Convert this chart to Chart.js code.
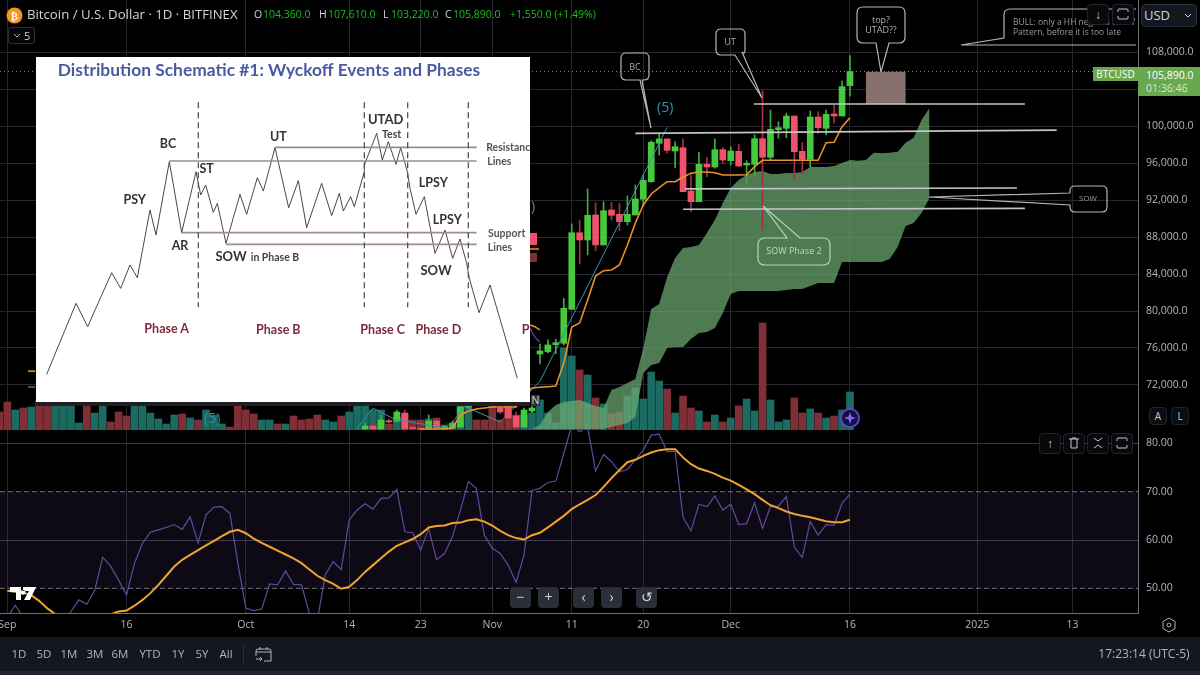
<!DOCTYPE html>
<html>
<head>
<meta charset="utf-8">
<title>BTCUSD</title>
<script src="https://cdn.jsdelivr.net/npm/chart.js@4"></script>
<style>
  html, body { margin: 0; padding: 0; background: #000; }
  body { width: 1200px; height: 675px; position: relative; overflow: hidden; font-family: "Open Sans", sans-serif; color: #d1d4dc; }
  canvas { position: absolute; display: block; }
  #mainChart { left: 0; top: 0; }
  #rsiChart { left: 0; top: 430px; }
  #notes { position: absolute; left: 0; top: 0; }
  .t { position: absolute; white-space: nowrap; line-height: 1; }
  .g { color: #1fc01f; }
  .btn { position: absolute; box-sizing: border-box; width: 22px; height: 21px; border: 1px solid #22252e; border-radius: 4px; background: #08090c; color: #c8cad0; font-size: 12px; text-align: center; line-height: 19px; }
  .nav { position: absolute; top: 587px; width: 21px; height: 21px; border-radius: 4px; background: #2a2e39; color: #d1d4dc; text-align: center; font-size: 14px; line-height: 20px; }
  #panel { position: absolute; left: 36px; top: 57px; width: 494px; height: 345px; background: #fff; overflow: hidden; box-shadow: 0 4px 0 #202024; }
  #panel canvas { left: 0; top: 0; }
  #panel span { position: absolute; white-space: nowrap; line-height: 1; transform: translate(-50%, -50%); font-family: Lato, sans-serif; font-weight: 700; }
  #bottom { position: absolute; left: 0; top: 637px; width: 1200px; height: 34px; background: #131722; }
  #foot { position: absolute; left: 0; top: 671px; width: 1200px; height: 4px; background: #20242e; }
  #bottom .t { top: 11px; font-size: 11.5px; color: #b2b5be; transform: translateX(-50%); }
  #lastTag { position: absolute; left: 1138px; top: 67px; width: 62px; height: 29px; background: #6aa84f; color: #fff; }
  #nameTag { position: absolute; left: 1093px; top: 67px; width: 45px; height: 14px; background: #6aa84f; color: #fff; font-size: 10px; text-align: center; line-height: 14px; }
</style>
</head>
<body>
<canvas id="mainChart" width="1200" height="430"></canvas>
<canvas id="rsiChart" width="1200" height="207"></canvas>

<svg id="notes" width="1200" height="430" fill="none" stroke="#b5b5b5" stroke-width="1.2">
  <!-- callouts -->
  <path d="M626 53H644Q649 53 649 58V75Q649 80 644 80H642L651 128L640 80H626Q621 80 621 75V58Q621 53 626 53Z"/>
  <path d="M721 29H740Q745 29 745 34V50Q745 55 742 52L762 98L735 55H721Q716 55 716 50V34Q716 29 721 29Z"/>
  <path d="M863 7H899Q905 7 905 13V37Q905 43 899 43H889L881 72L876 43H863Q857 43 857 37V13Q857 7 863 7Z"/>
  <path d="M1136 9H1010Q1004 9 1004 15V38L961 45H1136"/>
  <path d="M1075 186H1102Q1107 186 1107 191V207Q1107 212 1102 212H1075Q1070 212 1070 207V205L929 197L1070 193V191Q1070 186 1075 186Z"/>
  <path stroke="#bcd0bc" d="M765 238H787L763 206L800 238H823Q830 238 830 245V258Q830 265 823 265H765Q758 265 758 258V245Q758 238 765 238Z"/>
  <!-- bits of the other drawing peeking out around the pasted panel -->
  <rect x="530" y="233" width="7" height="12" fill="#f0526a" stroke="none"/>
  <rect x="530" y="253" width="7" height="9" fill="#7f2f35" stroke="none"/>
  <path d="M530 249H539M530 325Q535 326 540 330" stroke="#e8912c" stroke-width="1.5"/>
  <path d="M530 328Q534 338 540 342" stroke="#5e4a9a"/>
  <path d="M28 387H35" stroke="#8a80b8"/>
  <!-- replay marker -->
  <circle cx="850" cy="418" r="9" stroke="#5a45d0" stroke-width="2" fill="#14123a"/>
  <path d="M850 412L851.5 416.5L856 418L851.5 419.5L850 424L848.5 419.5L844 418L848.5 416.5Z" fill="#7a66ff" stroke="none"/>
</svg>

<div class="t" style="left:657px;top:100px;font-size:14px;color:#3f8fb0">(5)</div>
<div class="t" style="left:204px;top:411px;font-size:14px;color:#3488a4">(5)</div>
<div class="t" style="left:531px;top:199px;font-size:14px;color:#3f8fb0">)</div>
<div class="t" style="left:531px;top:395px;width:9px;height:11px;background:#33343a;font-size:10.5px;line-height:11px;text-align:center;color:#d8d8d8">N</div>

<div class="t" style="left:635px;top:62px;font-size:9px;color:#a8a8a8;transform:translateX(-50%)">BC</div>
<div class="t" style="left:730px;top:37px;font-size:9px;color:#a8a8a8;transform:translateX(-50%)">UT</div>
<div class="t" style="left:881px;top:15px;font-size:9px;color:#b0b0b0;transform:translateX(-50%)">top?</div>
<div class="t" style="left:881px;top:25px;font-size:9px;color:#b0b0b0;transform:translateX(-50%)">UTAD??</div>
<div class="t" style="left:1013px;top:18px;font-size:8.5px;color:#9a9a9a">BULL: only a HH negates the W</div>
<div class="t" style="left:1013px;top:28px;font-size:8.5px;color:#9a9a9a">Pattern, before it is too late</div>
<div class="t" style="left:1088px;top:194px;font-size:8px;color:#9a9a9a;transform:translateX(-50%)">SOW</div>
<div class="t" style="left:794px;top:246px;font-size:9px;color:#c9d6c9;transform:translateX(-50%)">SOW Phase 2</div>

<!-- header -->
<svg style="position:absolute;left:6px;top:7px" width="17" height="17"><circle cx="8.5" cy="8.5" r="8" fill="#f7931a"/><text x="8.5" y="12.5" font-size="11" font-family="DejaVu Sans" font-weight="700" fill="#fff" text-anchor="middle">₿</text></svg>
<div class="t" style="left:27px;top:8px;font-size:13.2px">Bitcoin / U.S. Dollar · 1D · BITFINEX</div>
<div class="t" style="left:254px;top:9px;font-size:10.5px">O</div><div class="t g" style="left:263px;top:9px;font-size:10.5px">104,360.0</div>
<div class="t" style="left:319px;top:9px;font-size:10.5px">H</div><div class="t g" style="left:328px;top:9px;font-size:10.5px">107,610.0</div>
<div class="t" style="left:383px;top:9px;font-size:10.5px">L</div><div class="t g" style="left:391px;top:9px;font-size:10.5px">103,220.0</div>
<div class="t" style="left:445px;top:9px;font-size:10.5px">C</div><div class="t g" style="left:453px;top:9px;font-size:10.5px">105,890.0</div>
<div class="t g" style="left:510px;top:9px;font-size:10.5px">+1,550.0 (+1.49%)</div>
<div style="position:absolute;left:8px;top:27px;width:27px;height:17px;box-sizing:border-box;border:1px solid #2a2e39;border-radius:3px;background:#050608"></div>
<svg style="position:absolute;left:13px;top:33px" width="8" height="6" fill="none" stroke="#b2b5be"><path d="M1 1L4 4L7 1"/></svg>
<div class="t" style="left:24px;top:30px;font-size:11px">5</div>

<!-- top right controls -->
<div class="btn" style="left:1087px;top:4px">↓</div>
<div class="btn" style="left:1112px;top:4px"><svg width="12" height="12" style="margin-top:3px" fill="none" stroke="#c8cad0"><path d="M1 4V2Q1 1 2 1H10Q11 1 11 2V4M1 8V10Q1 11 2 11H10Q11 11 11 10V8"/></svg></div>
<div style="position:absolute;left:1141px;top:4px;width:56px;height:23px;box-sizing:border-box;border:1px solid #2a2e39;border-radius:4px;background:#131722"></div>
<div class="t" style="left:1144px;top:9px;font-size:13px">USD</div>
<svg style="position:absolute;left:1184px;top:13px" width="8" height="6" fill="none" stroke="#d1d4dc"><path d="M1 1L4 4L7 1"/></svg>
<div id="nameTag">BTCUSD</div>
<div id="lastTag">
  <div class="t" style="left:8px;top:3px;font-size:10.5px">105,890.0</div>
  <div class="t" style="left:8px;top:16px;font-size:10.5px;color:#d6e8cc">01:36:46</div>
</div>
<div class="btn" style="left:1149px;top:407px;width:18px;height:18px;line-height:16px;font-size:10px;background:#0c0d10">A</div>
<div class="btn" style="left:1171px;top:407px;width:18px;height:18px;line-height:16px;font-size:10px;background:#0c0d10">L</div>

<!-- RSI pane controls -->
<div class="btn" style="left:1039px;top:433px">↑</div>
<div class="btn" style="left:1063px;top:433px"><svg width="10" height="12" style="margin-top:3px" fill="none" stroke="#c8cad0"><path d="M0 2H10M3 2V1H7V2M2 2V11H8V2"/></svg></div>
<div class="btn" style="left:1087px;top:433px"><svg width="10" height="12" style="margin-top:3px" fill="none" stroke="#c8cad0"><path d="M1 1L5 4L9 1M1 11L5 8L9 11"/></svg></div>
<div class="btn" style="left:1111px;top:433px"><svg width="12" height="12" style="margin-top:3px" fill="none" stroke="#c8cad0"><path d="M1 4V2Q1 1 2 1H10Q11 1 11 2V4M1 8V10Q1 11 2 11H10Q11 11 11 10V8"/></svg></div>

<!-- chart navigation -->
<div class="nav" style="left:510px">−</div>
<div class="nav" style="left:538px">+</div>
<div class="nav" style="left:573px">‹</div>
<div class="nav" style="left:601px">›</div>
<div class="nav" style="left:636px">↺</div>

<svg style="position:absolute;left:10px;top:587px" width="27" height="14" fill="#fff"><path d="M0 0H11V13H6V5H0ZM13 0H26L20 13H14L19 4H13ZM13 3a2.4 2.4 0 1 0 0.1 0Z"/></svg>
<svg style="position:absolute;left:1160px;top:616px" width="18" height="18" fill="none" stroke="#b2b5be"><path d="M9 2L15 5.5V12.5L9 16L3 12.5V5.5Z"/><circle cx="9" cy="9" r="2"/></svg>

<!-- pasted schematic -->
<div id="panel"><canvas id="schemeChart" width="494" height="345"></canvas></div>

<!-- bottom bar -->
<div id="bottom">
  <div class="t" style="left:19px">1D</div>
  <div class="t" style="left:44px">5D</div>
  <div class="t" style="left:69px">1M</div>
  <div class="t" style="left:95px">3M</div>
  <div class="t" style="left:120px">6M</div>
  <div class="t" style="left:150px">YTD</div>
  <div class="t" style="left:178px">1Y</div>
  <div class="t" style="left:202px">5Y</div>
  <div class="t" style="left:226px">All</div>
  <div style="position:absolute;left:243px;top:7px;width:1px;height:20px;background:#2a2e39"></div>
  <svg style="position:absolute;left:255px;top:9px" width="17" height="17" fill="none" stroke="#b2b5be"><path d="M3 3H14Q16 3 16 5V15H9M1 10V5Q1 3 3 3M1 6H16M5 1V4M12 1V4M1 13H7M5 11L7 13L5 15"/></svg>
  <div class="t" style="left:1144px;font-size:12px">17:23:14 (UTC-5)</div>
</div>
<div id="foot"></div>

<script>
// Days are counted from Sep 1 2024 = 0
const tickDays = [0, 15, 30, 43, 52, 61, 71, 80, 91, 106, 122, 134];
const tickLabels = ['Sep', '16', 'Oct', '14', '23', 'Nov', '11', '20', 'Dec', '16', '2025', '13'];
const priceTicks = [72000, 76000, 80000, 84000, 88000, 92000, 96000, 100000, 104000, 108000];
const rsiTicks = [50, 60, 70, 80];

// Candles, first one is day 45
const candleStart = 45;
const opens = [67245, 67567, 67245, 68140, 68100, 68970, 67400, 67300, 67350, 68100, 67300, 67350, 67460, 69622, 71000, 72400, 72500, 69515, 69515, 68650, 67460, 69190,
  75350, 75600, 76360, 76510, 80180, 88460, 87680, 90380, 87140, 90920, 90450, 89660, 90380, 92080, 93980, 98130, 98600, 97300, 97650, 92970,
  91820, 95860, 95570, 97440, 96250, 97265, 95785, 95860, 98630, 96620, 99600, 99750, 101080, 97265, 96400, 100975, 99750, 101300, 101080, 104360];
const highs = [67900, 68000, 68757, 68350, 69300, 69300, 67500, 67400, 68757, 68300, 67600, 68100, 69800, 71200, 72600, 73000, 72900, 69900, 69622, 69080, 69500, 69700,
  76430, 76870, 76950, 81370, 89410, 89840, 93190, 91710, 91820, 91750, 91650, 92430, 93620, 94700, 98400, 99210, 98600, 98300, 98600, 94700,
  97160, 96620, 98600, 97650, 97760, 98050, 96250, 99030, 103815, 101730, 100465, 101375, 101080, 98200, 101620, 101550, 101730, 102270, 104865, 107610];
const lows = [67200, 67245, 67245, 67900, 68000, 67245, 67250, 67150, 67300, 67300, 67250, 67300, 67400, 69500, 70800, 72000, 69900, 68900, 67460, 67400, 67400, 69000,
  74270, 75470, 75400, 76330, 80180, 85080, 86060, 86510, 87140, 89840, 88680, 89300, 90380, 91350, 93900, 96860, 97050, 95490, 92900, 90730,
  91820, 94520, 95430, 96000, 95785, 95600, 93730, 94700, 88760, 96320, 98670, 98735, 94240, 94890, 95600, 99210, 99030, 100325, 101080, 103220];
const closes = [67567, 67245, 68215, 68000, 69080, 67245, 67300, 67200, 68100, 67350, 67500, 67890, 69622, 71000, 72400, 72500, 70200, 69080, 68430, 67460, 69300, 69515,
  75680, 76330, 76570, 80300, 88460, 87680, 90350, 87140, 90840, 90350, 89660, 90450, 92110, 94130, 98240, 98600, 97370, 97760, 92900, 91820,
  95860, 95570, 97440, 96320, 97300, 95680, 95970, 98630, 96620, 99640, 99820, 101080, 97220, 96400, 100975, 99820, 101265, 101080, 104250, 105890];

// Volume, first one is day -1
const volumeStart = -1;
const volumes = [1800, 2800, 2000, 2200, 2300, 3000, 3000, 3000, 3000, 3000, 700, 3000, 1700, 3000, 800, 1800, 1400, 3000, 3000, 1700, 1100, 600, 1500, 1600, 1200, 1000, 2000,
  1500, 600, 300, 3000, 2000, 1600, 1000, 1000, 600, 600, 1400, 1000, 1100, 1500, 1000, 800, 1400, 1800, 3000, 3000, 2000, 2000, 600, 1300, 1600, 1000, 1000,
  1100, 1200, 500, 600, 3000, 3000, 1000, 1000, 3000, 1000, 3000, 1500, 1500, 1700, 3000, 1700, 700, 8200, 7400, 6000, 5500, 3200, 2600, 1600, 1800, 3400, 4200,
  3100, 5800, 4900, 4100, 1700, 3400, 2200, 1900, 800, 1500, 800, 1200, 2400, 3100, 1900, 10700, 3000, 800, 1000, 3200, 1700, 2100, 1700, 1200, 1400, 2000, 3800];
const volumeRising = [0, 0, 1, 0, 1, 0, 0, 1, 1, 1, 1, 0, 1, 1, 0, 0, 0, 1, 1, 1, 1, 1, 1, 0, 1, 0, 1,
  1, 1, 0, 0, 0, 0, 1, 1, 0, 1, 0, 0, 0, 0, 1, 1, 0, 1, 1, 1, 1, 1, 0, 1, 0, 0, 0,
  1, 0, 1, 1, 1, 1, 0, 0, 0, 0, 0, 0, 1, 1, 1, 1, 1, 1, 1, 0, 1, 0, 1, 0, 0, 1, 1,
  1, 1, 1, 0, 1, 0, 0, 1, 0, 1, 0, 1, 0, 1, 1, 0, 1, 1, 1, 0, 0, 1, 0, 1, 0, 1, 1];

// Ichimoku style cloud, first one is day 66
const cloudStart = 66;
const cloudUpper = [67245, 67677, 69080, 69840, 70160, 70270, 70380, 70055, 69730, 69515, 71460, 71785, 72215, 72650, 76000, 80215, 80760, 83675, 85730, 86810, 86920, 87135, 88435,
  89840, 91675, 93300, 94160, 94700, 95030, 95135, 94810, 94810, 94920, 94920, 95030, 95570, 95570, 95570, 95675, 96000, 96325, 96250, 96325, 97115, 97050, 97115, 97220, 98195, 98735, 100650, 101945];
const cloudLower = [67245, 67245, 67245, 67245, 67245, 67245, 67245, 67245, 67245, 67245, 67460, 67677, 67890, 68540, 73300, 74165, 74380, 76000, 76110, 76110, 76975, 77620, 77730,
  78160, 79785, 81840, 82160, 82160, 82160, 82160, 82160, 82160, 82270, 82380, 82380, 82700, 83025, 83025, 83025, 85300, 85300, 85300, 85300, 85300, 85300, 85620, 86920, 89190, 89515, 90595, 92215];

// Orange base line, first one is day 52
const baseStart = 52;
const baseLine = [67245, 67245, 67245, 67245, 67350, 68757, 69190, 69405, 69515, 69622, 69622, 69622, 69622, 70920, 71675, 71752, 71817, 71893, 74380, 78270, 78700, 81190, 83785, 84357, 84430, 84975,
  87135, 89515, 91460, 92650, 93330, 93980, 93980, 94487, 94887, 95027, 95027, 94950, 94703, 94703, 94703, 94735, 95600, 96290, 96290, 96290, 96290, 96290, 96290, 96290, 96290, 98195, 98238, 99925, 100900];
const baseLeftDays = [2.6, 3.5];
const baseLeft = [73500, 73500];

// Elliott wave leg
const waveDays = [44, 46, 48.7, 55.5, 57.5, 62, 67, 83];
const wavePrices = [67300, 69500, 68300, 67300, 69700, 68000, 72400, 99850];

// Drawn levels: start day, end day, start price, end price
const levelFrom = [93.9, 79, 85.25, 85];
const levelTo = [128, 132, 127, 128];
const levelStartPrice = [102380, 99200, 93200, 91000];
const levelEndPrice = [102380, 99550, 93300, 91100];
const lastPrice = 105890;
const boxDay = 110.5;
const boxPrices = [102380, 105840];

// RSI, first one is day 0
const rsiStart = 0;
const rsiValues = [44, 46.5, 44, 43, 42, 40, 41, 42, 45.2, 47.6, 46.7, 49.6, 56.4, 54.6, 51.7, 48.6, 55.2, 59.3, 61.6, 62.1, 62.6, 63.2, 62.2, 64.8, 59.4, 65.2, 66.8, 66.9, 65.5, 55.2,
  45.9, 45.4, 45.7, 50.9, 50.7, 53.6, 50.8, 50.7, 44.8, 43.4, 52.8, 55.5, 53.9, 64.1, 66.2, 67.5, 66.4, 68.6, 68.7, 70.5, 61.7, 61.5, 57.9, 62.4, 55.9, 57.2, 60.7, 66.2, 72.1, 70.7,
  61, 58.3, 57.2, 54.8, 51.2, 56.9, 70.2, 70.7, 71.9, 72.2, 77.9, 83.8, 82.4, 83.4, 74.3, 77.7, 76.2, 74.1, 74.6, 76.6, 78.6, 81.7, 81.9, 78.3, 78.4, 64.7, 61.9, 67.4, 66.9, 69.1,
  66.2, 67.4, 63.2, 63.4, 67.7, 62.4, 66.9, 67, 69, 58.5, 56.4, 63.8, 61, 63.2, 63.1, 67.6, 69.5];
const rsiAverage = [49.5, 49.3, 49.1, 48.6, 47.4, 45.9, 44.7, 44.1, 43.8, 43.5, 43.5, 43.7, 44.2, 44.6, 45.2, 45.4, 46.4, 47.6, 49, 50.7, 52.6, 54.5, 55.9, 56.9, 57.9, 58.9, 59.8, 60.8, 61.7, 62.1,
  61.4, 60.3, 59.4, 58.6, 57.8, 57, 56.2, 55.2, 53.9, 52.6, 51.7, 50.9, 49.9, 50.3, 51.7, 53.4, 54.8, 56.2, 57.6, 58.8, 59.5, 60.2, 61.2, 62.6, 62.9, 63, 63.5, 63.6, 64.1, 64.3,
  63.8, 63, 61.9, 61, 60.4, 60.1, 61, 61.5, 62.6, 63.8, 65, 66.4, 67.4, 68.3, 69.3, 71, 72.8, 74.5, 76.1, 76.6, 77.4, 78.1, 78.6, 78.8, 78.8, 77.1, 75.7, 74.8, 74.3, 73.7,
  72.9, 72.3, 71.4, 70.5, 69.5, 68.3, 67.2, 66.6, 65.9, 65.4, 65, 64.7, 64.3, 63.9, 63.7, 63.7, 64.2];

// Wyckoff schematic path, in the schematic's own units
const schemeX = [50, 138, 173, 245, 272, 300, 322, 360, 378, 418, 455, 498, 512, 527, 550, 562, 588, 630, 650, 682, 700, 735, 776, 805, 830, 875, 905, 928, 940, 962, 973, 1003, 1003, 1040, 1057, 1075, 1098, 1112, 1132, 1140, 1158, 1183, 1215, 1245, 1268, 1290, 1310, 1318, 1347, 1380, 1462];
const schemeY = [973, 760, 830, 668, 715, 645, 683, 480, 555, 335, 548, 365, 435, 405, 487, 460, 580, 433, 493, 383, 423, 293, 473, 392, 533, 400, 497, 430, 483, 440, 470, 365, 345, 250, 330, 275, 343, 293, 365, 415, 493, 440, 610, 540, 625, 567, 640, 685, 788, 705, 985];
const schemePhaseX = [505, 1003, 1133, 1315];
const schemeRangeFrom = [735, 418, 455, 588];
const schemeRangeY = [292, 333, 548, 583];
const schemeRangeEnd = 1340;
const schemeLabels = [
  ['Distribution Schematic #1: Wyckoff Events and Phases', 717, 60, 17.4, '#4a5aa0'],
  ['BC', 414, 283, 12.5, '#333'], ['PSY', 314, 450, 12.5, '#333'], ['ST', 530, 358, 12.5, '#333'], ['AR', 450, 588, 12.5, '#333'],
  ['UT', 745, 262, 12.5, '#333'], ['SOW', 603, 618, 13, '#333'], ['in Phase B', 735, 620, 10.5, '#444'],
  ['UTAD', 1067, 208, 13, '#333'], ['Test', 1085, 252, 10.5, '#444'], ['Resistance', 1443, 290, 10.5, '#555'], ['Lines', 1408, 332, 10.5, '#555'],
  ['LPSY', 1210, 400, 12.5, '#333'], ['LPSY', 1252, 510, 12.5, '#333'], ['SOW', 1218, 660, 13, '#333'],
  ['Support', 1430, 548, 10.5, '#555'], ['Lines', 1410, 590, 10.5, '#555'],
  ['Phase A', 410, 836, 12.5, '#7d2a3c'], ['Phase B', 745, 840, 12.5, '#7d2a3c'], ['Phase C', 1058, 840, 12.5, '#7d2a3c'], ['Phase D', 1225, 840, 12.5, '#7d2a3c'], ['P', 1487, 840, 12.5, '#7d2a3c']
];

const GRID = '#26262e';
const AXIS = '#6c6f78';
const UP = '#46c93c';
const DOWN = '#f0526a';
const UP_WICK = '#3fae3f';
const DOWN_WICK = '#a8303f';
const DAY_MIN = -0.92;
const DAY_MAX = 142.23;
const FONT = '"Open Sans", sans-serif';

/**
 * Pair a list of values with consecutive days
 */
function byDay(values, start) {
  return values.map((y, i) => ({ x: start + i, y }));
}

/**
 * Thin line dataset with no points
 */
function lineSet(data, color, width, extra) {
  return Object.assign({ type: 'line', data, borderColor: color, borderWidth: width, pointRadius: 0, tension: 0, yAxisID: 'y' }, extra);
}

/**
 * Stop the layout from reserving room for tick label overhang
 */
function noOverhang(scale) {
  scale.paddingLeft = 0;
  scale.paddingRight = 0;
  scale.paddingTop = 0;
  scale.paddingBottom = 0;
}

/**
 * Shared x axis: fixed day range with the chart's own date ticks
 */
function dayAxis(showLabels, height) {
  return {
    type: 'linear',
    offset: false,
    min: DAY_MIN,
    max: DAY_MAX,
    afterBuildTicks: scale => { scale.ticks = tickDays.map(value => ({ value })); },
    afterFit: scale => { scale.height = height; noOverhang(scale); },
    grid: { color: GRID, drawTicks: false, offset: false },
    border: { color: AXIS },
    ticks: {
      display: showLabels,
      autoSkip: false,
      maxRotation: 0,
      padding: 6,
      color: '#b2b5be',
      font: { family: FONT, size: 10.5 },
      callback: value => tickLabels[tickDays.indexOf(value)]
    }
  };
}

/**
 * Price pane: candles, volume, cloud, base line and drawn levels
 */
function createMainChart() {
  const rising = opens.map((o, i) => closes[i] >= o);
  const datasets = [];

  datasets.push({
    type: 'bar', yAxisID: 'vol', grouped: false, order: 10, barThickness: 7,
    data: byDay(volumes, volumeStart),
    backgroundColor: volumeRising.map(r => (r ? '#1c6b62' : '#7f2f35'))
  });
  datasets.push(lineSet(byDay(cloudUpper, cloudStart), 'transparent', 0, {
    order: 6, fill: '+1', backgroundColor: 'rgba(110,170,115,0.72)'
  }));
  datasets.push(lineSet(byDay(cloudLower, cloudStart), 'transparent', 0, { order: 7 }));
  datasets.push({
    type: 'bar', yAxisID: 'y', grouped: false, order: 5, barThickness: 1,
    data: highs.map((h, i) => ({ x: candleStart + i, y: [lows[i], h] })),
    backgroundColor: rising.map(r => (r ? UP_WICK : DOWN_WICK))
  });
  datasets.push({
    type: 'bar', yAxisID: 'y', grouped: false, order: 4, barThickness: 6,
    data: opens.map((o, i) => ({ x: candleStart + i, y: [o, closes[i]] })),
    backgroundColor: rising.map(r => (r ? UP : DOWN))
  });
  datasets.push({
    type: 'bar', yAxisID: 'y', grouped: false, order: 4, barThickness: 39,
    data: [{ x: boxDay, y: boxPrices }],
    backgroundColor: '#86706e'
  });
  datasets.push(lineSet(byDay(baseLine, baseStart), '#e8912c', 1.6, { order: 3 }));
  datasets.push(lineSet(baseLeftDays.map((x, i) => ({ x, y: baseLeft[i] })), '#e8912c', 1.6, { order: 3 }));
  datasets.push(lineSet(waveDays.map((x, i) => ({ x, y: wavePrices[i] })), '#3c8fae', 1, { order: 3 }));
  datasets.push(lineSet([{ x: DAY_MIN, y: lastPrice }, { x: DAY_MAX, y: lastPrice }], '#6aa84f', 1, { order: 3, borderDash: [1, 3] }));
  levelFrom.forEach((from, i) => {
    datasets.push(lineSet([{ x: from, y: levelStartPrice[i] }, { x: levelTo[i], y: levelEndPrice[i] }], '#c4c4c4', 1.6, { order: 2 }));
  });

  return new Chart(document.getElementById('mainChart'), {
    type: 'bar',
    data: { datasets },
    options: {
      responsive: false,
      animation: false,
      layout: { padding: 0 },
      plugins: { legend: { display: false }, tooltip: { enabled: false } },
      scales: {
        x: dayAxis(false, 0),
        y: {
          position: 'right',
          min: 67135,
          max: 113622,
          afterBuildTicks: scale => { scale.ticks = priceTicks.map(value => ({ value })); },
          afterFit: scale => { scale.width = 62; noOverhang(scale); },
          grid: { color: GRID, drawTicks: false },
          border: { color: AXIS },
          ticks: {
            padding: 8,
            color: '#b2b5be',
            font: { family: FONT, size: 10.5 },
            callback: value => value.toLocaleString('en-US') + '.0'
          }
        },
        vol: { display: false, min: 0, max: 43000 }
      }
    }
  });
}

/**
 * RSI pane with its band and moving average
 */
function createRsiChart() {
  const edges = [{ x: DAY_MIN, y: 70 }, { x: DAY_MAX, y: 70 }];
  const lowEdges = [{ x: DAY_MIN, y: 50 }, { x: DAY_MAX, y: 50 }];

  return new Chart(document.getElementById('rsiChart'), {
    type: 'line',
    data: {
      datasets: [
        lineSet(edges, '#77777f', 1, { order: 5, borderDash: [5, 3], fill: '+1', backgroundColor: 'rgba(126,87,194,0.11)' }),
        lineSet(lowEdges, '#77777f', 1, { order: 6, borderDash: [5, 3] }),
        lineSet(byDay(rsiValues, rsiStart), '#5f4b9e', 1.2, { order: 2 }),
        lineSet(byDay(rsiAverage, rsiStart), '#f0a32f', 2, { order: 1 })
      ]
    },
    options: {
      responsive: false,
      animation: false,
      layout: { padding: 0 },
      plugins: { legend: { display: false }, tooltip: { enabled: false } },
      scales: {
        x: dayAxis(true, 24),
        y: {
          position: 'right',
          min: 44.89,
          max: 82.77,
          afterBuildTicks: scale => { scale.ticks = rsiTicks.map(value => ({ value })); },
          afterFit: scale => { scale.width = 62; noOverhang(scale); },
          grid: {
            drawTicks: false,
            color: ctx => (ctx.tick && (ctx.tick.value === 70 || ctx.tick.value === 50) ? 'transparent' : '#3a3a42')
          },
          border: { color: AXIS },
          ticks: {
            padding: 8,
            color: '#b2b5be',
            font: { family: FONT, size: 10.5 },
            callback: value => value.toFixed(2)
          }
        }
      }
    }
  });
}

/**
 * The pasted Wyckoff schematic, drawn as its own small line chart
 */
function createSchemeChart() {
  const datasets = [];
  schemePhaseX.forEach(x => {
    datasets.push(lineSet([{ x, y: 157 }, { x, y: 772 }], '#555', 1.3, { borderDash: [6, 4] }));
  });
  schemeRangeY.forEach((y, i) => {
    datasets.push(lineSet([{ x: schemeRangeFrom[i], y }, { x: schemeRangeEnd, y }], '#a08a8e', 1.6));
  });
  datasets.push(lineSet(schemeX.map((x, i) => ({ x, y: schemeY[i] })), '#333', 0.9));

  new Chart(document.getElementById('schemeChart'), {
    type: 'line',
    data: { datasets },
    options: {
      responsive: false,
      animation: false,
      layout: { padding: 0 },
      plugins: { legend: { display: false }, tooltip: { enabled: false } },
      scales: {
        x: { type: 'linear', display: false, min: 18, max: 1500 },
        y: { type: 'linear', display: false, reverse: true, min: 21, max: 1056 }
      }
    }
  });

  const panel = document.getElementById('panel');
  schemeLabels.forEach(([text, x, y, size, color]) => {
    const el = document.createElement('span');
    el.textContent = text;
    el.style.left = (x - 18) / 3 + 'px';
    el.style.top = (y - 21) / 3 + 'px';
    el.style.fontSize = size + 'px';
    el.style.color = color;
    panel.appendChild(el);
  });
}

createMainChart();
createRsiChart();
createSchemeChart();
</script>
</body>
</html>
